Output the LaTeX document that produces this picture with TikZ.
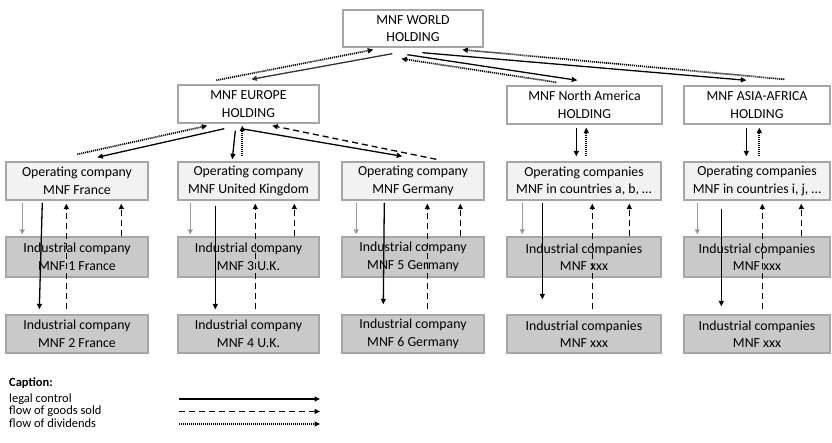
\documentclass[tikz,border=0pt]{standalone}
\usepackage{fontspec}
\setmainfont{Carlito}
\usetikzlibrary{arrows.meta,calc}
\definecolor{bordergray}{HTML}{A6A6A6}
\definecolor{opfill}{HTML}{F2F2F2}
\definecolor{indfill}{HTML}{C9C9C9}
\definecolor{lightarrow}{HTML}{999999}
\tikzset{
  box/.style={draw=bordergray, line width=1.4pt, rectangle, inner sep=0pt, align=center,
    font=\fontsize{13.8}{17.5}\selectfont},
  holdbox/.style={box, fill=white},
  opbox/.style={box, fill=opfill},
  indbox/.style={box, fill=indfill},
  tip/.style={-{Triangle[length=5.5pt,width=5pt]}},
  ctrl/.style={tip, line width=1.3pt, black},
  goods/.style={tip, line width=1.3pt, black, dash pattern=on 6pt off 4pt},
  divid/.style={tip, line width=1.7pt, black, dash pattern=on 1.1pt off 0.9pt},
  feed/.style={-{Triangle[length=5pt,width=5pt]}, line width=1pt, lightarrow},
  captext/.style={anchor=base west, inner sep=0pt, font=\fontsize{12.5}{12.5}\selectfont}
}
\begin{document}
\begin{tikzpicture}[x=1pt,y=-1pt]
\useasboundingbox (0,0) rectangle (832,443);
% holdings
\node[holdbox, minimum width=140pt, minimum height=37pt] (w) at (413,28.5) {MNF WORLD\\HOLDING};
\node[holdbox, minimum width=141pt, minimum height=38pt] (eu) at (248.5,104) {MNF EUROPE\\HOLDING};
\node[holdbox, minimum width=155pt, minimum height=38pt] (na) at (584.5,105) {MNF North America\\HOLDING};
\node[holdbox, minimum width=146pt, minimum height=38pt] (as) at (757,105) {MNF ASIA-AFRICA\\HOLDING};
% operating
\node[opbox, minimum width=142pt, minimum height=38pt] (o1) at (77,181) {Operating company\\MNF France};
\node[opbox, minimum width=141pt, minimum height=38pt] (o2) at (248.5,181) {Operating company\\MNF United Kingdom};
\node[opbox, minimum width=142pt, minimum height=38pt] (o3) at (413,181) {Operating company\\MNF Germany};
\node[opbox, minimum width=154pt, minimum height=38pt] (o4) at (584,181) {Operating companies\\MNF in countries a, b, \dots};
\node[opbox, minimum width=146pt, minimum height=38pt] (o5) at (757,181) {Operating companies\\MNF in countries i, j, \dots};
% industrial row 1
\node[indbox, minimum width=142pt, minimum height=40pt] (i1) at (77,257) {Industrial company\\MNF 1 France};
\node[indbox, minimum width=141pt, minimum height=40pt] (i2) at (248.5,257) {Industrial company\\MNF 3 U.K.};
\node[indbox, minimum width=142pt, minimum height=40pt] (i3) at (413,257) {Industrial company\\MNF 5 Germany};
\node[indbox, minimum width=154pt, minimum height=40pt] (i4) at (584,257) {Industrial companies\\MNF xxx};
\node[indbox, minimum width=146pt, minimum height=40pt] (i5) at (757,257) {Industrial companies\\MNF xxx};
% industrial row 2
\node[indbox, minimum width=142pt, minimum height=38pt] (j1) at (77,334) {Industrial company\\MNF 2 France};
\node[indbox, minimum width=141pt, minimum height=38pt] (j2) at (248.5,334) {Industrial company\\MNF 4 U.K.};
\node[indbox, minimum width=142pt, minimum height=38pt] (j3) at (413,334) {Industrial company\\MNF 6 Germany};
\node[indbox, minimum width=154pt, minimum height=38pt] (j4) at (584,334) {Industrial companies\\MNF xxx};
\node[indbox, minimum width=146pt, minimum height=38pt] (j5) at (757,334) {Industrial companies\\MNF xxx};

% world <-> regional holdings
\draw[ctrl, draw=black!80, fill=black!80] ([shift={(50,6)}]w.south west) -- ([shift={(74,-5)}]eu.north west);
\draw[divid] ([shift={(39,-4)}]eu.north west) -- ([shift={(31,2)}]w.south west);
\draw[ctrl] ([shift={(80,5)}]w.south west) -- ([shift={(63,-5)}]as.north west);
\draw[ctrl] ([shift={(65,7)}]w.south west) -- ([shift={(71,-5)}]na.north west);
\draw[divid] ([shift={(50,-3)}]na.north west) -- ([shift={(59,11)}]w.south west);
\draw[divid] ([shift={(101,-6)}]as.north west) -- ([shift={(120,2)}]w.south west);

% europe <-> operating
\draw[ctrl] ([shift={(47,5)}]eu.south west) -- ([shift={(92,-4)}]o1.north west);
\draw[divid] ([shift={(72,-7)}]o1.north west) -- ([shift={(30,2)}]eu.south west);
\draw[ctrl] ([shift={(58,7)}]eu.south west) -- ([shift={(55,-2)}]o2.north west);
\draw[divid] ([shift={(65,-5)}]o2.north west) -- ([shift={(65,2)}]eu.south west);
\draw[ctrl] ([shift={(64,5)}]eu.south west) -- ([shift={(61,-5)}]o3.north west);
\draw[goods] ([shift={(95,-2)}]o3.north west) -- ([shift={(95,2)}]eu.south west);

% NA and Asia holdings <-> operating
\draw[ctrl] ([shift={(70,3)}]na.south west) -- ([shift={(70,-5)}]o4.north west);
\draw[divid] ([shift={(80,-5)}]o4.north west) -- ([shift={(80,3)}]na.south west);
\draw[ctrl] ([shift={(63,3)}]as.south west) -- ([shift={(63,-5)}]o5.north west);
\draw[divid] ([shift={(76,-5)}]o5.north west) -- ([shift={(76,3)}]as.south west);

% France column
\draw[feed] ([shift={(17,2)}]o1.south west) -- ([shift={(17,-2)}]i1.north west);
\draw[ctrl] ([shift={(37,2)}]o1.south west) -- ([shift={(34,-5)}]j1.north west);
\draw[goods] ([shift={(61,-5)}]j1.north west) -- ([shift={(61,3)}]o1.south west);
\draw[goods] ([shift={(116,0)}]i1.north west) -- ([shift={(116,3)}]o1.south west);
% UK column
\draw[feed] ([shift={(13,2)}]o2.south west) -- ([shift={(13,-2)}]i2.north west);
\draw[ctrl] ([shift={(38,5)}]o2.south west) -- ([shift={(38,-5)}]j2.north west);
\draw[goods] ([shift={(78,-5)}]j2.north west) -- ([shift={(78,3)}]o2.south west);
\draw[goods] ([shift={(117,0)}]i2.north west) -- ([shift={(117,3)}]o2.south west);
% Germany column
\draw[feed] ([shift={(15,2)}]o3.south west) -- ([shift={(15,-2)}]i3.north west);
\draw[ctrl] ([shift={(43,2)}]o3.south west) -- ([shift={(42,-10)}]j3.north west);
\draw[goods] ([shift={(86,-5)}]j3.north west) -- ([shift={(86,3)}]o3.south west);
\draw[goods] ([shift={(119,0)}]i3.north west) -- ([shift={(119,3)}]o3.south west);
% NA column
\draw[feed] ([shift={(16,2)}]o4.south west) -- ([shift={(16,-2)}]i4.north west);
\draw[ctrl] ([shift={(36,2)}]o4.south west) -- ([shift={(36,-15)}]j4.north west);
\draw[goods] ([shift={(86,-5)}]j4.north west) -- ([shift={(86,3)}]o4.south west);
\draw[goods] ([shift={(123,0)}]i4.north west) -- ([shift={(123,3)}]o4.south west);
% Asia column
\draw[feed] ([shift={(14,2)}]o5.south west) -- ([shift={(14,-2)}]i5.north west);
\draw[ctrl] ([shift={(38,8)}]o5.south west) -- ([shift={(38,-8)}]j5.north west);
\draw[goods] ([shift={(79,-5)}]j5.north west) -- ([shift={(79,3)}]o5.south west);
\draw[goods] ([shift={(118,0)}]i5.north west) -- ([shift={(118,3)}]o5.south west);

% caption
\node[captext, font=\fontsize{12.5}{12.5}\selectfont\bfseries] (cap) at (9,386) {Caption:};
\node[captext] (l1) at (9,402) {legal control};
\node[captext] (l2) at (9,414.5) {flow of goods sold};
\node[captext] (l3) at (9,427) {flow of dividends};
\coordinate (a1s) at (179,399); \coordinate (a1e) at (320,399);
\coordinate (a2s) at (179,411.5); \coordinate (a2e) at (320,411.5);
\coordinate (a3s) at (179,424); \coordinate (a3e) at (320,424);
\draw[ctrl] (a1s) -- (a1e);
\draw[goods] (a2s) -- (a2e);
\draw[divid] (a3s) -- (a3e);
\end{tikzpicture}
\end{document}
